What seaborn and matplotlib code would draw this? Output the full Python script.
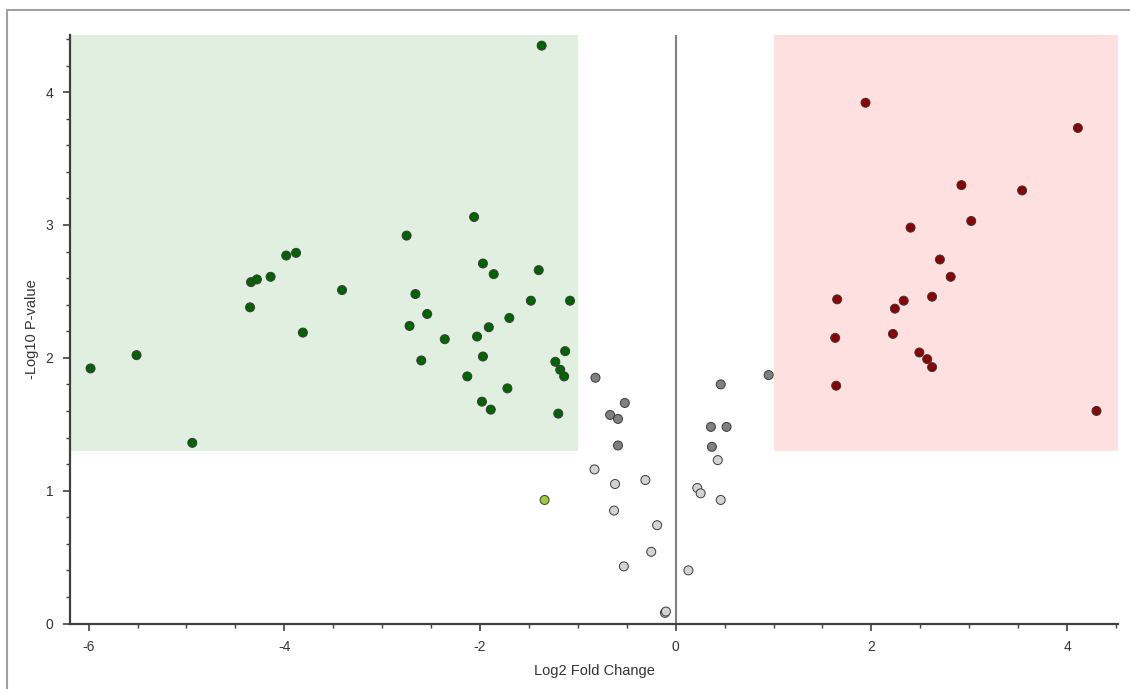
import matplotlib
matplotlib.use("Agg")
import matplotlib.pyplot as plt
from matplotlib.lines import Line2D
from matplotlib.ticker import MultipleLocator
import seaborn as sns
import pandas as pd

# significant, down-regulated
down_fc = [-5.98, -5.51, -4.94, -4.35, -4.34, -4.28, -4.14, -3.98, -3.88, -3.81,
           -3.41, -2.75, -2.72, -2.66, -2.60, -2.54, -2.36, -2.13, -2.06, -2.03,
           -1.98, -1.97, -1.97, -1.91, -1.89, -1.86, -1.72, -1.70, -1.48, -1.40,
           -1.37, -1.23, -1.20, -1.18, -1.14, -1.13, -1.08]
down_p = [1.92, 2.02, 1.36, 2.38, 2.57, 2.59, 2.61, 2.77, 2.79, 2.19,
          2.51, 2.92, 2.24, 2.48, 1.98, 2.33, 2.14, 1.86, 3.06, 2.16,
          1.67, 2.71, 2.01, 2.23, 1.61, 2.63, 1.77, 2.30, 2.43, 2.66,
          4.35, 1.97, 1.58, 1.91, 1.86, 2.05, 2.43]

# significant, up-regulated
up_fc = [1.94, 4.11, 2.92, 3.54, 3.02, 2.40, 2.70, 2.81, 1.65, 2.62,
         2.33, 2.24, 2.22, 1.63, 2.49, 2.57, 2.62, 1.64, 4.30]
up_p = [3.92, 3.73, 3.30, 3.26, 3.03, 2.98, 2.74, 2.61, 2.44, 2.46,
        2.43, 2.37, 2.18, 2.15, 2.04, 1.99, 1.93, 1.79, 1.60]

# p passes, fold change does not
mid_fc = [-0.82, -0.52, -0.67, -0.59, -0.59, 0.46, 0.95, 0.36, 0.52, 0.37]
mid_p = [1.85, 1.66, 1.57, 1.54, 1.34, 1.80, 1.87, 1.48, 1.48, 1.33]

# not significant
ns_fc = [-0.83, -0.62, -0.31, -0.63, -0.19, -0.25, -0.53, -0.11, -0.10, 0.13,
         0.43, 0.22, 0.255, 0.46]
ns_p = [1.16, 1.05, 1.08, 0.85, 0.74, 0.54, 0.43, 0.08, 0.09, 0.40,
        1.23, 1.02, 0.98, 0.93]

# fold change passes, p does not
fc_only_fc = [-1.34]
fc_only_p = [0.93]

fc_cut = 1.0
p_cut = 1.3

palette = {
    "down": "#006400",
    "up": "#8B0000",
    "mid": "#808080",
    "ns": "#D3D3D3",
    "fc_only": "#9ACD32",
}


def make_frame():
    parts = []
    for name, fc, p in [("ns", ns_fc, ns_p), ("mid", mid_fc, mid_p),
                        ("fc_only", fc_only_fc, fc_only_p),
                        ("down", down_fc, down_p), ("up", up_fc, up_p)]:
        parts.append(pd.DataFrame({"fc": fc, "p": p, "group": name}))
    return pd.concat(parts, ignore_index=True)


def volcano():
    sns.set_style("white")
    plt.rcParams["font.family"] = ["Liberation Sans", "DejaVu Sans"]
    plt.rcParams["axes.unicode_minus"] = False

    fig = plt.figure(figsize=(11.3, 6.89), dpi=100)
    ax = fig.add_axes([70 / 1130, 65.5 / 689, 1048 / 1130, 588.5 / 689])

    xmin, xmax = -6.19, 4.52
    ymin, ymax = 0, 4.43

    ax.axvspan(xmin, -fc_cut, ymin=p_cut / ymax, ymax=1, color="#E0EFE0", lw=0, zorder=0)
    ax.axvspan(fc_cut, xmax, ymin=p_cut / ymax, ymax=1, color="#FFE0E0", lw=0, zorder=0)
    ax.axvline(0, color="#808080", lw=1.5, zorder=1)

    df = make_frame()
    sns.scatterplot(data=df, x="fc", y="p", hue="group", palette=palette,
                    s=42, edgecolor="#3a3a3a", linewidth=0.7, legend=False,
                    zorder=3, ax=ax)

    ax.set_xlim(xmin, xmax)
    ax.set_ylim(ymin, ymax)
    ax.xaxis.set_major_locator(MultipleLocator(2))
    ax.xaxis.set_minor_locator(MultipleLocator(0.5))
    ax.yaxis.set_major_locator(MultipleLocator(1))
    ax.yaxis.set_minor_locator(MultipleLocator(0.2))

    for side in ["top", "right"]:
        ax.spines[side].set_visible(False)
    for side in ["left", "bottom"]:
        ax.spines[side].set_color("#404040")
        ax.spines[side].set_linewidth(1.6)

    ax.tick_params(which="both", direction="out", color="#404040",
                   labelcolor="#333333", labelsize=10, bottom=True, left=True)
    ax.tick_params(which="major", length=5, width=1.2)
    ax.tick_params(which="minor", length=3, width=1.0)
    ax.tick_params(axis="x", which="major", pad=7)
    ax.tick_params(axis="y", which="major", pad=7)

    ax.set_xlabel("Log2 Fold Change", fontsize=10.5, color="#333333", labelpad=7)
    ax.set_ylabel("-Log10 P-value", fontsize=10.5, color="#333333", labelpad=5)

    # panel border, top and left only
    fig.add_artist(Line2D([7 / 1130, 1], [1 - 10 / 689, 1 - 10 / 689],
                          color="#A0A0A0", lw=1.5))
    fig.add_artist(Line2D([7 / 1130, 7 / 1130], [0, 1 - 10 / 689],
                          color="#A0A0A0", lw=1.5))

    fig.savefig("out.png", dpi=100)


if __name__ == "__main__":
    volcano()
